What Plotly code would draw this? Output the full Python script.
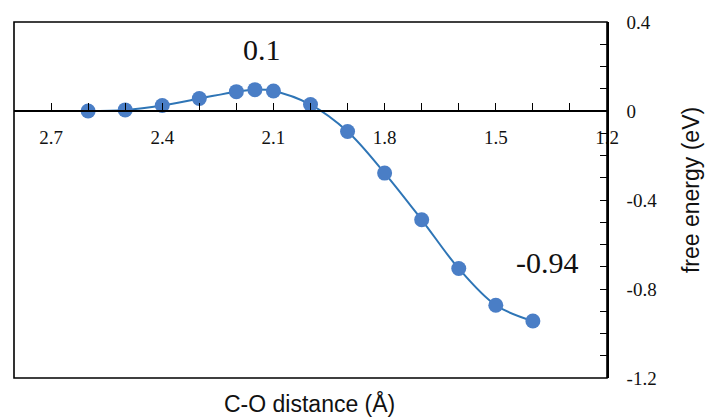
import plotly.graph_objects as go

co_distance = [2.6, 2.5, 2.4, 2.3, 2.2, 2.15, 2.1, 2.0, 1.9, 1.8, 1.7, 1.6, 1.5, 1.4]
free_energy = [0.0, 0.005, 0.025, 0.056, 0.087, 0.096, 0.09, 0.029, -0.092, -0.279, -0.489, -0.708, -0.873, -0.944]

x_ticks = [2.7, 2.4, 2.1, 1.8, 1.5, 1.2]
y_ticks = [0.4, 0, -0.4, -0.8, -1.2]
y_tick_text = ["0.4", "0", "-0.4", "-0.8", "-1.2"]

labels = [("0.1", 2.13, 0.275), ("-0.94", 1.36, -0.68)]

fig = go.Figure()
fig.add_trace(go.Scatter(
    x=co_distance, y=free_energy, mode="lines+markers",
    line=dict(color="#2E75B6", width=2, shape="spline", smoothing=1.0),
    marker=dict(color="#4A7EC6", size=15),
    showlegend=False, cliponaxis=False,
))

for txt, lx, ly in labels:
    fig.add_annotation(x=lx, y=ly, text=txt, showarrow=False,
                       font=dict(family="Liberation Serif", size=30, color="#111"))

fig.add_annotation(xref="paper", yref="paper", x=0.499, y=-0.073, text="C-O distance (Å)",
                   showarrow=False, yanchor="middle",
                   font=dict(family="Liberation Sans", size=23, color="#111"))
fig.add_annotation(xref="paper", yref="paper", x=1.1417, y=0.528, text="free energy (eV)",
                   showarrow=False, textangle=-90, xanchor="center", yanchor="middle",
                   font=dict(family="Liberation Sans", size=23, color="#111"))

fig.add_shape(type="rect", xref="paper", yref="paper", x0=0, x1=1, y0=0, y1=1,
              line=dict(color="black", width=1.6), layer="above")

fig.update_layout(
    width=705, height=418,
    margin=dict(l=14, r=98, t=20, b=40),
    plot_bgcolor="white", paper_bgcolor="white",
    xaxis=dict(
        range=[2.8, 1.2], tickvals=x_ticks, ticktext=[str(v) for v in x_ticks],
        anchor="free", position=0.75, side="bottom",
        showline=True, linecolor="black", linewidth=1.6,
        ticks="inside", ticklen=7, tickwidth=1.4, tickcolor="black",
        minor=dict(dtick=0.1, tick0=1.2, ticks="inside", ticklen=7, tickwidth=1.4, tickcolor="black"),
        ticklabelstandoff=9,
        tickfont=dict(family="Liberation Serif", size=19, color="#111"),
        showgrid=False, zeroline=False,
    ),
    yaxis=dict(
        range=[-1.2, 0.4], tickvals=y_ticks, ticktext=y_tick_text,
        side="right", showline=True, linecolor="black", linewidth=1.6,
        ticks="inside", ticklen=7, tickwidth=1.4, tickcolor="black",
        minor=dict(dtick=0.1, tick0=0, ticks="inside", ticklen=7, tickwidth=1.4, tickcolor="black"),
        ticklabelstandoff=14,
        tickfont=dict(family="Liberation Serif", size=19, color="#111"),
        showgrid=False, zeroline=False,
    ),
)

fig.write_html("out.html", config={"displayModeBar": False},
               post_script="document.body.style.margin='0';document.body.style.padding='0';document.body.style.overflow='hidden';")
